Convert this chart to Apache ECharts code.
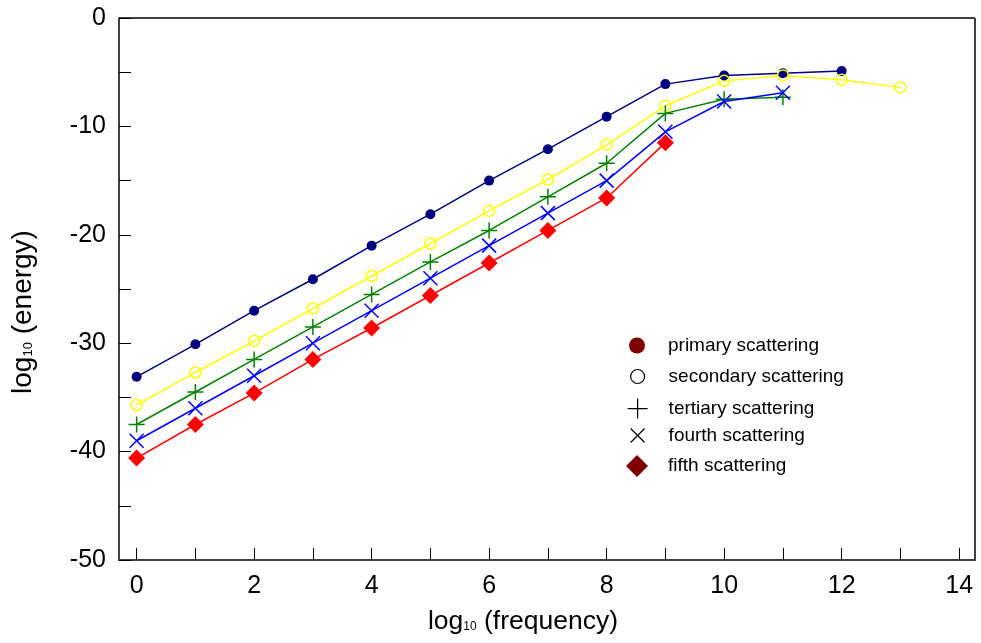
<!DOCTYPE html>
<html>
<head>
<meta charset="utf-8">
<script src="https://cdn.jsdelivr.net/npm/echarts@6/dist/echarts.min.js"></script>
<style>html,body{margin:0;padding:0;background:#fff}#c{width:981px;height:643px}</style>
</head>
<body>
<div id="c"></div>
<script>
const freq = [0,1,2,3,4,5,6,7,8,9,10,11,12,13];
const primary   = [-33.1,-30.1,-27.0,-24.1,-21.0,-18.1,-15.0,-12.1,-9.1,-6.1,-5.3,-5.1,-4.9];
const secondary = [-35.7,-32.7,-29.8,-26.8,-23.8,-20.8,-17.8,-14.9,-11.7,-8.1,-5.8,-5.3,-5.7,-6.4];
const tertiary  = [-37.5,-34.5,-31.5,-28.5,-25.5,-22.5,-19.6,-16.5,-13.4,-8.8,-7.5,-7.3];
const fourth    = [-39.0,-36.0,-33.0,-30.0,-27.0,-24.0,-21.0,-18.0,-15.0,-10.5,-7.7,-6.9];
const fifth     = [-40.6,-37.5,-34.6,-31.5,-28.6,-25.6,-22.6,-19.6,-16.6,-11.5];
const xTicks = [0,1,2,3,4,5,6,7,8,9,10,11,12,13,14];
const xLabels = [0,2,4,6,8,10,12,14];
const yLabels = [-50,-40,-30,-20,-10,0];
const names = ['primary scattering','secondary scattering','tertiary scattering','fourth scattering','fifth scattering'];

const pair = arr => arr.map((v,i)=>[freq[i], v]);
const PLUS = 'path://M0,10L20,10M10,0L10,20';
const CROSS = 'path://M0,0L20,20M20,0L0,20';
const FONT = '"Liberation Sans", Arial, sans-serif';

const chart = echarts.init(document.getElementById('c'));

function legendItem(name, icon, size, cy, style) {
  const cx = 637;
  return {
    data: [{name: name, icon: icon, itemStyle: style}],
    left: cx - size/2,
    top: cy - 11,
    itemWidth: size,
    itemHeight: size,
    selectedMode: false,
    padding: 0,
    textStyle: {fontFamily: FONT, fontSize: 19, color: '#000', padding: [0,0,0, 668 - (cx + size/2) - 5]},
    height: 22
  };
}

chart.setOption({
  animation: false,
  grid: {left: 119, top: 18, right: 6, bottom: 83, show: false},
  xAxis: {
    type: 'value', min: -0.3, max: 14.27,
    name: '{a|log}{b|10}{a| (frequency)}', nameLocation: 'middle', nameGap: 48,
    nameTextStyle: {padding: [0, 48, 0, 0], rich: {a: {fontFamily: FONT, fontSize: 26.5, color: '#000'}, b: {fontFamily: FONT, fontSize: 12, color: '#000', padding: [10,0,0,0]}}},
    axisLine: {show: true, onZero: false, lineStyle: {color: '#404040', width: 2}},
    axisTick: {show: true, inside: true, length: 12, customValues: xTicks, lineStyle: {color: '#000', width: 1}},
    axisLabel: {customValues: xLabels, fontFamily: FONT, fontSize: 25, color: '#000', margin: 14},
    splitLine: {show: false}
  },
  yAxis: {
    type: 'value', min: -50, max: 0, interval: 5,
    name: '{a|log}{b|10}{a| (energy)}', nameLocation: 'middle', nameGap: 82, nameRotate: 90,
    nameTextStyle: {padding: [0, 46, 0, 0], rich: {a: {fontFamily: FONT, fontSize: 28, color: '#000'}, b: {fontFamily: FONT, fontSize: 13, color: '#000', padding: [10,0,0,0]}}},
    axisLine: {show: true, onZero: false, lineStyle: {color: '#000', width: 1.5}},
    axisTick: {show: true, inside: true, length: 12, lineStyle: {color: '#000', width: 1}},
    axisLabel: {customValues: yLabels, fontFamily: FONT, fontSize: 25, color: '#000', margin: 13},
    splitLine: {show: false}
  },
  graphic: [
    {type: 'line', shape: {x1: 119, y1: 18, x2: 975, y2: 18}, style: {stroke: '#000', lineWidth: 1.5}, silent: true},
    {type: 'line', shape: {x1: 975, y1: 18, x2: 975, y2: 561}, style: {stroke: '#404040', lineWidth: 2}, silent: true}
  ],
  legend: [
    legendItem(names[0], 'circle', 16, 347, {color: '#800000', borderWidth: 0}),
    legendItem(names[1], 'circle', 14, 378, {color: 'rgba(0,0,0,0)', borderColor: '#000', borderWidth: 1.2}),
    legendItem(names[2], PLUS, 20, 409, {color: 'rgba(0,0,0,0)', borderColor: '#000', borderWidth: 1.2}),
    legendItem(names[3], CROSS, 14, 437, {color: 'rgba(0,0,0,0)', borderColor: '#000', borderWidth: 1.2}),
    legendItem(names[4], 'diamond', 22, 466, {color: '#800000', borderWidth: 0})
  ],
  series: [
    {name: names[0], type: 'line', data: pair(primary), symbol: 'circle', symbolSize: 10,
     lineStyle: {color: '#000080', width: 1.5}, itemStyle: {color: '#000080'}},
    {name: names[1], type: 'line', data: pair(secondary), symbol: 'circle', symbolSize: 11,
     lineStyle: {color: '#ffff00', width: 1.5}, itemStyle: {color: 'rgba(0,0,0,0)', borderColor: '#ffff00', borderWidth: 1.5}},
    {name: names[2], type: 'line', data: pair(tertiary), symbol: PLUS, symbolSize: 16,
     lineStyle: {color: '#008000', width: 1.5}, itemStyle: {color: 'rgba(0,0,0,0)', borderColor: '#008000', borderWidth: 1.5}},
    {name: names[3], type: 'line', data: pair(fourth), symbol: CROSS, symbolSize: 14,
     lineStyle: {color: '#0000ff', width: 1.5}, itemStyle: {color: 'rgba(0,0,0,0)', borderColor: '#0000ff', borderWidth: 1.5}},
    {name: names[4], type: 'line', data: pair(fifth), symbol: 'diamond', symbolSize: 17,
     lineStyle: {color: '#ff0000', width: 1.5}, itemStyle: {color: '#ff0000'}}
  ]
});
</script>
</body>
</html>
